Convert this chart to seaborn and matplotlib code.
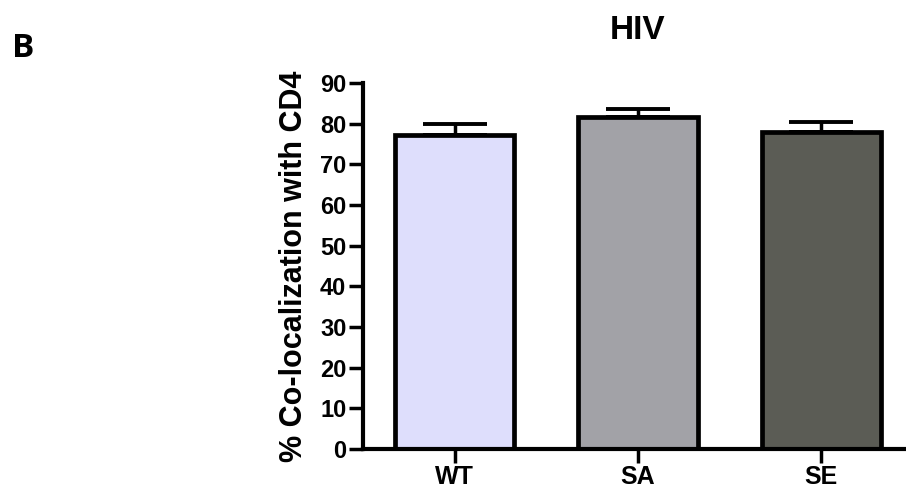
import matplotlib
matplotlib.use("Agg")
import matplotlib.pyplot as plt
import seaborn as sns
import pandas as pd

groups = ["WT", "SA", "SE"]
means = [77.2, 81.6, 77.9]
sems = [2.8, 2.0, 2.5]
colors = ["#DEDEFC", "#A2A2A7", "#5B5C55"]
yticks = [0, 10, 20, 30, 40, 50, 60, 70, 80, 90]

sns.set_theme(style="ticks")
plt.rcParams["font.family"] = ["Liberation Sans", "DejaVu Sans"]
plt.rcParams["text.color"] = "black"
plt.rcParams["axes.labelcolor"] = "black"
plt.rcParams["xtick.color"] = "black"
plt.rcParams["ytick.color"] = "black"

df = pd.DataFrame({"group": groups, "mean": means})

fig = plt.figure(figsize=(9.06, 4.90), dpi=100)
ax = fig.add_axes([363 / 906, 1 - 449 / 490, (913 - 363) / 906, (449 - 83) / 490])

# error bars (upper only) drawn first so bars cover their lower part
ax.errorbar(range(len(groups)), means, yerr=[[0] * len(groups), sems],
            fmt="none", ecolor="black", elinewidth=2.5, capsize=23, capthick=2.8,
            zorder=1)

sns.barplot(data=df, x="group", y="mean", hue="group", palette=colors,
            saturation=1, legend=False, width=0.65, edgecolor="black",
            linewidth=3.4, ax=ax, zorder=2)

ax.set_xlim(-0.5, 2.5)
ax.set_ylim(0, 90)
ax.set_yticks(yticks)
ax.set_xlabel("")
ax.set_ylabel("% Co-localization with CD4", fontsize=22, fontweight="bold",
              labelpad=8, color="black")
ax.set_title("HIV", fontsize=24, fontweight="bold", pad=32, color="black")

for s in ["top", "right"]:
    ax.spines[s].set_visible(False)
for s in ["left", "bottom"]:
    ax.spines[s].set_linewidth(3.0)
    ax.spines[s].set_color("black")
ax.spines["left"].set_zorder(5)
ax.spines["bottom"].set_zorder(5)

ax.tick_params(axis="both", length=10, width=2.5, color="black",
               labelcolor="black", labelsize=17, pad=2)
ax.tick_params(axis="x", pad=1.5, labelsize=18)
for lbl in ax.get_xticklabels() + ax.get_yticklabels():
    lbl.set_fontweight("bold")

fig.text(12 / 906, 1 - 57 / 490, "B", fontsize=24, fontweight="bold", color="black",
         family=["Open Sans", "DejaVu Sans"], ha="left", va="baseline")

fig.savefig("out.png", dpi=100)
